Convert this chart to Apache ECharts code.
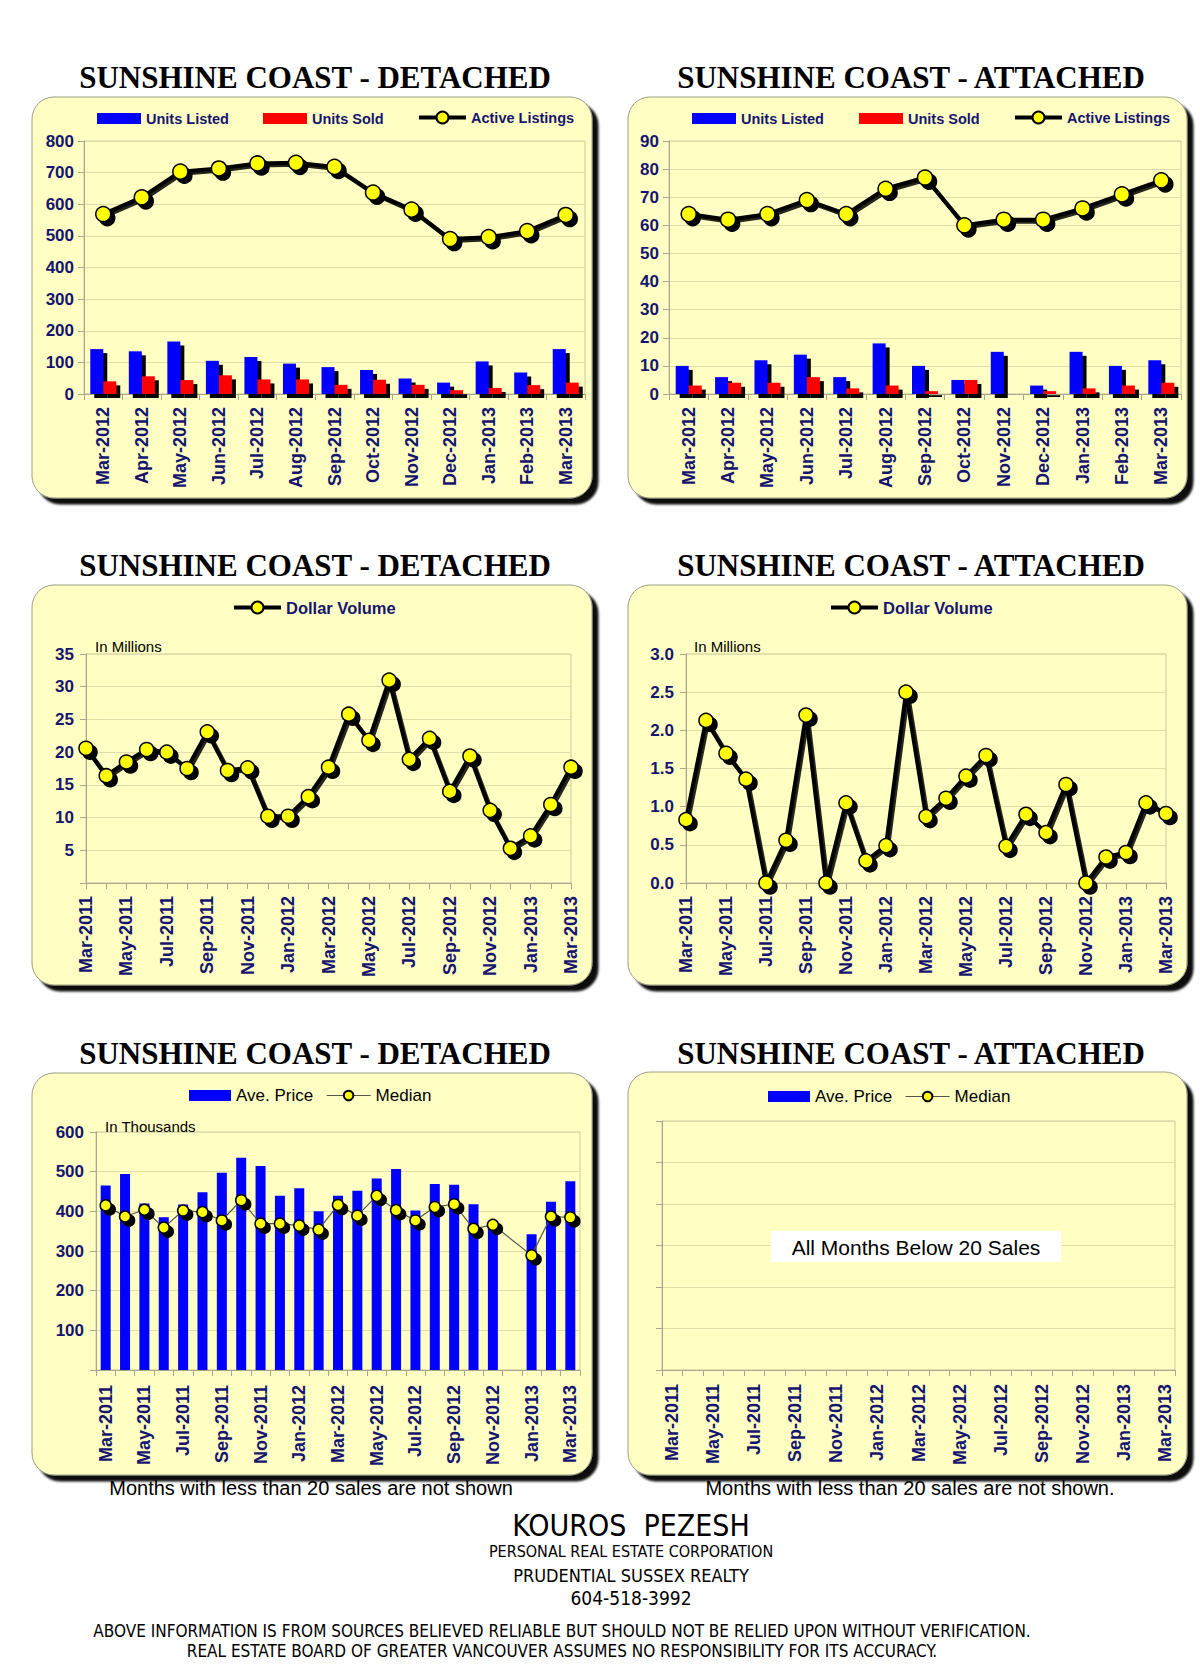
<!DOCTYPE html>
<html>
<head>
<meta charset="utf-8">
<script src="https://cdn.jsdelivr.net/npm/echarts@6/dist/echarts.min.js"></script>
<style>
html,body{margin:0;padding:0;background:#fff;}
#chart{width:1200px;height:1665px;}
</style>
</head>
<body>
<div id="chart"></div>
<script>
// ---------- DATA ----------
const months13 = ['Mar-2012','Apr-2012','May-2012','Jun-2012','Jul-2012','Aug-2012','Sep-2012','Oct-2012','Nov-2012','Dec-2012','Jan-2013','Feb-2013','Mar-2013'];
const months25 = ['Mar-2011','Apr-2011','May-2011','Jun-2011','Jul-2011','Aug-2011','Sep-2011','Oct-2011','Nov-2011','Dec-2011','Jan-2012','Feb-2012','Mar-2012','Apr-2012','May-2012','Jun-2012','Jul-2012','Aug-2012','Sep-2012','Oct-2012','Nov-2012','Dec-2012','Jan-2013','Feb-2013','Mar-2013'];

const detListed = [142,135,166,105,117,96,85,76,49,36,103,68,142];
const detSold   = [40,56,44,59,46,46,29,45,29,12,19,28,36];
const detActive = [569,622,703,713,729,731,718,637,583,490,496,515,566];

const attListed = [10,6,12,14,6,18,10,5,15,3,15,10,12];
const attSold   = [3,4,4,6,2,3,1,5,0,1,2,3,4];
const attActive = [64,62,64,69,64,73,77,60,62,62,66,71,76];

const detDollar = [20.6,16.4,18.5,20.4,20.0,17.5,23.1,17.2,17.6,10.2,10.2,13.2,17.7,25.8,21.8,31.0,18.9,22.1,14.0,19.4,11.1,5.3,7.2,12.0,17.7];
const attDollar = [0.83,2.13,1.70,1.36,0,0.56,2.20,0,1.05,0.29,0.49,2.50,0.87,1.11,1.40,1.67,0.48,0.90,0.66,1.29,0,0.34,0.40,1.05,0.91];

const detAvgPrice = [465,494,420,385,417,448,497,535,514,439,458,400,439,452,483,507,402,469,467,418,368,null,342,424,476];
const detMedian   = [415,387,404,359,402,398,377,428,369,369,364,354,416,389,439,403,377,411,418,356,366,null,289,387,385];
const attAvgPrice = [];
const attMedian   = [];

// ---------- STYLE ----------
const SANS = '"Liberation Sans", Arial, Helvetica, sans-serif';
const SERIF = '"Liberation Serif", "Times New Roman", serif';
const NARROW = '"Liberation Sans Narrow", "Arial Narrow", "DejaVu Sans Condensed", sans-serif';
const NAVY = '#15156F';
const AXIS = '#A9A58E';
const GRIDC = '#E1DDAA';
const PANEL = '#FFFFC4';

function xCat(gi, data, o) {
  o = o || {};
  return {
    gridIndex: gi, type: 'category', data: data,
    boundaryGap: o.boundaryGap !== undefined ? o.boundaryGap : true,
    axisLine: {lineStyle: {color: AXIS, width: 1}},
    axisTick: {show: true, length: 6, interval: 0, lineStyle: {color: AXIS}},
    axisLabel: {rotate: 90, interval: o.interval !== undefined ? o.interval : 0, fontSize: 18, fontWeight: 'bold',
      color: NAVY, fontFamily: SANS, margin: o.margin || 13}
  };
}
function yVal(gi, max, interval, o) {
  o = o || {};
  return {
    gridIndex: gi, type: 'value', min: 0, max: max, interval: interval,
    axisLine: {show: true, lineStyle: {color: AXIS}},
    axisTick: {show: true, length: 6, lineStyle: {color: AXIS}},
    splitLine: {show: true, lineStyle: {color: GRIDC, width: 1}},
    axisLabel: {show: o.hideLabels ? false : true, fontSize: 17, fontWeight: 'bold', color: NAVY, fontFamily: SANS,
      margin: o.margin || 10, formatter: o.formatter}
  };
}
const hide0 = v => (v === 0 ? '' : String(v));
const noShadow = {shadowBlur: 0, shadowOffsetX: 0, shadowOffsetY: 0, shadowColor: 'transparent'};

function leg(name, left, cy, o) {
  o = o || {};
  const fs = o.fontSize || 15;
  const l = {
    data: [name], left: left, top: cy - Math.round(Math.max(fs, o.itemHeight || 12) / 2) - 1,
    padding: 0, itemWidth: o.itemWidth || 44, itemHeight: o.itemHeight || 11,
    itemGap: 0, selectedMode: false,
    itemStyle: Object.assign({}, noShadow),
    lineStyle: Object.assign({width: o.lineWidth || 'inherit'}, noShadow),
    textStyle: {fontSize: fs, fontWeight: o.bold === false ? 'normal' : 'bold',
      color: o.color || NAVY, fontFamily: SANS, padding: [0, 0, 0, 0]}
  };
  if (o.icon) l.icon = o.icon;
  return l;
}

function barShadow(color) {
  return {color: color, shadowColor: '#000', shadowBlur: 1, shadowOffsetX: 4, shadowOffsetY: 4};
}
const bigMarker = {color: '#FFFF00', borderColor: '#000', borderWidth: 1.5,
  shadowColor: '#000', shadowBlur: 1, shadowOffsetX: 4, shadowOffsetY: 4};
const bigLine = {color: '#000', width: 4, shadowColor: 'rgba(0,0,0,0.85)', shadowBlur: 1, shadowOffsetX: 2, shadowOffsetY: 2};

// ---------- LAYOUT ----------
const grids = [
  {left: 84, top: 141, width: 501, height: 253},
  {left: 669, top: 141, width: 512, height: 253},
  {left: 86, top: 654, width: 485, height: 229},
  {left: 686, top: 654, width: 480, height: 229},
  {left: 96, top: 1132, width: 484, height: 238},
  {left: 662, top: 1121, width: 513, height: 249}
].map(g => Object.assign({show: true, borderColor: '#CBC79C', borderWidth: 1, backgroundColor: 'transparent', containLabel: false}, g));

const panels = [
  [32, 97, 560, 401], [628, 97, 559, 401],
  [32, 585, 560, 400], [628, 585, 559, 400],
  [32, 1073, 560, 402], [628, 1072, 559, 403]
];

const graphics = [];
panels.forEach(p => graphics.push({
  type: 'rect', z: -10, silent: true,
  shape: {x: p[0], y: p[1], width: p[2], height: p[3], r: 22},
  style: {fill: PANEL, stroke: '#9C9C84', lineWidth: 1, shadowColor: 'rgba(0,0,0,0.95)', shadowBlur: 2, shadowOffsetX: 6, shadowOffsetY: 6}
}));
function txt(text, x, y, font, o) {
  o = o || {};
  graphics.push({type: 'text', z: 20, silent: true, x: x, y: y,
    style: {text: text, font: font, fill: o.fill || '#000', textAlign: o.align || 'center', textVerticalAlign: 'middle'}});
}
[['SUNSHINE COAST - DETACHED', 315, 77], ['SUNSHINE COAST - ATTACHED', 911, 77],
 ['SUNSHINE COAST - DETACHED', 315, 565], ['SUNSHINE COAST - ATTACHED', 911, 565],
 ['SUNSHINE COAST - DETACHED', 315, 1053], ['SUNSHINE COAST - ATTACHED', 911, 1053]]
 .forEach(t => txt(t[0], t[1], t[2], 'bold 31px ' + SERIF));

txt('In Millions', 95, 646, '15px ' + SANS, {align: 'left'});
txt('In Millions', 694, 646, '15px ' + SANS, {align: 'left'});
txt('In Thousands', 105, 1126, '15px ' + SANS, {align: 'left'});

graphics.push({type: 'rect', z: 15, silent: true, shape: {x: 771, y: 1231, width: 290, height: 31}, style: {fill: '#FFFFFF'}});
txt('All Months Below 20 Sales', 916, 1247, '21px ' + SANS);

txt('Months with less than 20 sales are not shown', 311, 1488, '20px ' + SANS);
txt('Months with less than 20 sales are not shown.', 910, 1488, '20px ' + SANS);

txt('KOUROS  PEZESH', 631, 1525, '30px ' + NARROW);
txt('PERSONAL REAL ESTATE CORPORATION', 631, 1551, '16px ' + NARROW);
txt('PRUDENTIAL SUSSEX REALTY', 631, 1575, '18px ' + NARROW);
txt('604-518-3992', 631, 1598, '19px ' + NARROW);
txt('ABOVE INFORMATION IS FROM SOURCES BELIEVED RELIABLE BUT SHOULD NOT BE RELIED UPON WITHOUT VERIFICATION.', 562, 1631, '17px ' + NARROW);
txt('REAL ESTATE BOARD OF GREATER VANCOUVER ASSUMES NO RESPONSIBILITY FOR ITS ACCURACY.', 562, 1651, '17px ' + NARROW);

// ---------- OPTION ----------
const option = {
  animation: false,
  backgroundColor: '#FFFFFF',
  grid: grids,
  legend: [
    leg('Units Listed', 97, 119, {icon: 'rect', fontSize: 14.5}),
    leg('Units Sold', 263, 119, {icon: 'rect', fontSize: 14.5}),
    leg('Active Listings', 417, 119, {fontSize: 14.5, itemWidth: 47, itemHeight: 15, lineWidth: 4}),
    leg('Units Listed', 692, 119, {icon: 'rect', fontSize: 14.5}),
    leg('Units Sold', 859, 119, {icon: 'rect', fontSize: 14.5}),
    leg('Active Listings', 1013, 119, {fontSize: 14.5, itemWidth: 47, itemHeight: 15, lineWidth: 4}),
    leg('Dollar Volume', 232, 608, {fontSize: 16.5, itemWidth: 47, itemHeight: 15, lineWidth: 4}),
    leg('Dollar Volume', 829, 608, {fontSize: 16.5, itemWidth: 47, itemHeight: 15, lineWidth: 4}),
    leg('Ave. Price', 189, 1097, {icon: 'rect', fontSize: 17, bold: false, color: '#000', itemHeight: 11, itemWidth: 42}),
    leg('Median', 326, 1097, {fontSize: 17, bold: false, color: '#000', itemWidth: 44, itemHeight: 12}),
    leg('Ave. Price', 768, 1098, {icon: 'rect', fontSize: 17, bold: false, color: '#000', itemHeight: 11, itemWidth: 42}),
    leg('Median', 905, 1098, {fontSize: 17, bold: false, color: '#000', itemWidth: 44, itemHeight: 12})
  ],
  xAxis: [
    xCat(0, months13, {margin: 13}),
    xCat(1, months13, {margin: 13}),
    xCat(2, months25, {boundaryGap: false, interval: 1, margin: 13}),
    xCat(3, months25, {boundaryGap: false, interval: 1, margin: 13}),
    xCat(4, months25, {interval: 1, margin: 15}),
    xCat(5, months25, {interval: 1, margin: 14})
  ],
  yAxis: [
    yVal(0, 800, 100, {margin: 10}),
    yVal(1, 90, 10, {margin: 10}),
    yVal(2, 35, 5, {margin: 12, formatter: hide0}),
    yVal(3, 3, 0.5, {margin: 12, formatter: v => v.toFixed(1)}),
    yVal(4, 600, 100, {margin: 12, formatter: hide0}),
    yVal(5, 600, 100, {hideLabels: true})
  ],
  graphic: {elements: graphics},
  series: [
    {name: 'Units Listed', type: 'bar', xAxisIndex: 0, yAxisIndex: 0, data: detListed, barWidth: 13, barGap: '0%', itemStyle: barShadow('#0000FF')},
    {name: 'Units Sold', type: 'bar', xAxisIndex: 0, yAxisIndex: 0, data: detSold, barWidth: 13, barGap: '0%', itemStyle: barShadow('#FF0000')},
    {name: 'Active Listings', type: 'line', xAxisIndex: 0, yAxisIndex: 0, data: detActive, symbol: 'circle', symbolSize: 15, showAllSymbol: true,
      lineStyle: bigLine, itemStyle: bigMarker, z: 5},

    {name: 'Units Listed', type: 'bar', xAxisIndex: 1, yAxisIndex: 1, data: attListed, barWidth: 13, barGap: '0%', itemStyle: barShadow('#0000FF')},
    {name: 'Units Sold', type: 'bar', xAxisIndex: 1, yAxisIndex: 1, data: attSold, barWidth: 13, barGap: '0%', itemStyle: barShadow('#FF0000')},
    {name: 'Active Listings', type: 'line', xAxisIndex: 1, yAxisIndex: 1, data: attActive, symbol: 'circle', symbolSize: 15, showAllSymbol: true,
      lineStyle: bigLine, itemStyle: bigMarker, z: 5},

    {name: 'Dollar Volume', type: 'line', xAxisIndex: 2, yAxisIndex: 2, data: detDollar, symbol: 'circle', symbolSize: 14, showAllSymbol: true,
      lineStyle: bigLine, itemStyle: bigMarker, z: 5},
    {name: 'Dollar Volume', type: 'line', xAxisIndex: 3, yAxisIndex: 3, data: attDollar, symbol: 'circle', symbolSize: 14, showAllSymbol: true,
      lineStyle: bigLine, itemStyle: bigMarker, z: 5},

    {name: 'Ave. Price', type: 'bar', xAxisIndex: 4, yAxisIndex: 4, data: detAvgPrice, barWidth: 10, itemStyle: {color: '#0000FF'}},
    {name: 'Median', type: 'line', xAxisIndex: 4, yAxisIndex: 4, data: detMedian, connectNulls: true, symbol: 'circle', symbolSize: 11, showAllSymbol: true,
      lineStyle: {color: '#55554A', width: 1.2},
      itemStyle: {color: '#FFFF00', borderColor: '#000', borderWidth: 1.5, shadowColor: '#000', shadowBlur: 1, shadowOffsetX: 4, shadowOffsetY: 4}, z: 5},

    {name: 'Ave. Price', type: 'bar', xAxisIndex: 5, yAxisIndex: 5, data: attAvgPrice, barWidth: 10, itemStyle: {color: '#0000FF'}},
    {name: 'Median', type: 'line', xAxisIndex: 5, yAxisIndex: 5, data: attMedian, symbol: 'circle', symbolSize: 11,
      lineStyle: {color: '#55554A', width: 1.2}, itemStyle: {color: '#FFFF00', borderColor: '#000', borderWidth: 1.5}}
  ]
};

const chart = echarts.init(document.getElementById('chart'), null, {renderer: 'svg', width: 1200, height: 1665});
chart.setOption(option);
</script>
</body>
</html>
